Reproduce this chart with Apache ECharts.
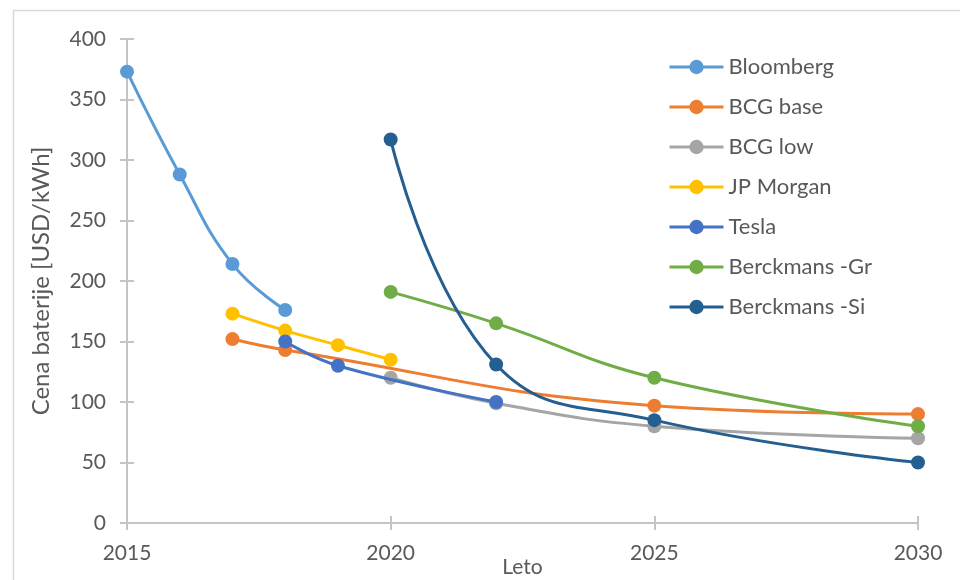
<!DOCTYPE html>
<html>
<head>
<meta charset="utf-8">
<script src="https://cdn.jsdelivr.net/npm/echarts@6/dist/echarts.min.js"></script>
<style>
  html, body { margin: 0; padding: 0; background: #ffffff; }
  #chart { width: 960px; height: 580px; }
</style>
</head>
<body>
<div id="chart"></div>
<script>
// Battery pack price forecasts (USD/kWh) by source
const bloombergYears = [2015, 2016, 2017, 2018];
const bloombergPrices = [373, 288, 214, 176];

const bcgBaseYears = [2017, 2018, 2025, 2030];
const bcgBasePrices = [152, 143, 97, 90];

const bcgLowYears = [2020, 2022, 2025, 2030];
const bcgLowPrices = [120, 99, 80, 70];

const jpMorganYears = [2017, 2018, 2019, 2020];
const jpMorganPrices = [173, 159, 147, 135];

const teslaYears = [2018, 2019, 2022];
const teslaPrices = [150, 130, 100];

const berckmansGrYears = [2020, 2022, 2025, 2030];
const berckmansGrPrices = [191, 165, 120, 80];

const berckmansSiYears = [2020, 2022, 2025, 2030];
const berckmansSiPrices = [317, 131, 85, 50];

const seriesNames = ['Bloomberg', 'BCG base', 'BCG low', 'JP Morgan', 'Tesla', 'Berckmans -Gr', 'Berckmans -Si'];
const seriesColors = ['#5B9BD5', '#ED7D31', '#A5A5A5', '#FFC000', '#4472C4', '#70AD47', '#255E91'];
const seriesYears = [bloombergYears, bcgBaseYears, bcgLowYears, jpMorganYears, teslaYears, berckmansGrYears, berckmansSiYears];
const seriesPrices = [bloombergPrices, bcgBasePrices, bcgLowPrices, jpMorganPrices, teslaPrices, berckmansGrPrices, berckmansSiPrices];

const xTicks = [2015, 2020, 2025, 2030];
const yMin = 0, yMax = 400, yStep = 50;

const FONT = 'Lato';
const TEXT = '#595959';
const AXIS = '#c4c4c4';

const chart = echarts.init(document.getElementById('chart'));

const series = seriesNames.map((name, i) => ({
  name: name,
  type: 'line',
  smooth: 0.45,
  symbol: 'circle',
  symbolSize: 14,
  data: seriesYears[i].map((y, k) => [y, seriesPrices[i][k]]),
  lineStyle: { color: seriesColors[i], width: 3 },
  itemStyle: { color: seriesColors[i], borderWidth: 0 },
  emphasis: { disabled: true },
  z: 2 + i
}));

chart.setOption({
  animation: false,
  backgroundColor: '#ffffff',
  textStyle: { fontFamily: FONT },
  graphic: [{
    type: 'rect',
    left: 11, top: 8,
    shape: { width: 1200, height: 900 },
    style: { fill: 'none', stroke: '#d9d9d9', lineWidth: 1.5 },
    silent: true
  }],
  grid: { left: 127, right: 42, top: 39, bottom: 57, outerBoundsMode: 'none', containLabel: false },
  legend: {
    orient: 'vertical',
    left: 668,
    top: 56,
    padding: 0,
    itemWidth: 54,
    itemHeight: 18,
    itemGap: 18,
    lineStyle: { width: 3 },
    textStyle: { fontFamily: FONT, fontSize: 22, color: TEXT, lineHeight: 20 },
    data: seriesNames
  },
  xAxis: [{
    type: 'value',
    min: 2015, max: 2030, interval: 5,
    name: 'Leto',
    nameLocation: 'middle',
    nameGap: 34,
    nameMoveOverlap: false,
    nameTextStyle: { fontFamily: FONT, fontSize: 21, color: TEXT },
    axisLine: { show: true, lineStyle: { color: AXIS, width: 2 } },
    axisTick: { show: true, length: 7, lineStyle: { color: AXIS, width: 2 } },
    axisLabel: { fontFamily: FONT, fontSize: 21, color: TEXT, margin: 20,
      formatter: v => (xTicks.indexOf(v) >= 0 ? String(v) : '') },
    splitLine: { show: false }
  }, {
    type: 'value',
    position: 'bottom',
    min: 2015, max: 2030, interval: 5,
    axisLine: { show: false },
    axisTick: { show: true, inside: true, length: 7, lineStyle: { color: AXIS, width: 2 } },
    axisLabel: { show: false },
    splitLine: { show: false }
  }],
  yAxis: [{
    type: 'value',
    min: yMin, max: yMax, interval: yStep,
    name: 'Cena baterije [USD/kWh]',
    nameLocation: 'middle',
    nameGap: 74,
    nameRotate: 90,
    nameMoveOverlap: false,
    nameTextStyle: { fontFamily: FONT, fontSize: 24, color: TEXT },
    axisLine: { show: true, lineStyle: { color: AXIS, width: 2 } },
    axisTick: { show: true, length: 7, lineStyle: { color: AXIS, width: 2 } },
    axisLabel: { fontFamily: FONT, fontSize: 21, color: TEXT, margin: 21 },
    splitLine: { show: false }
  }, {
    type: 'value',
    position: 'left',
    min: yMin, max: yMax, interval: yStep,
    axisLine: { show: false },
    axisTick: { show: true, inside: true, length: 7, lineStyle: { color: AXIS, width: 2 } },
    axisLabel: { show: false },
    splitLine: { show: false }
  }],
  series: series
});
</script>
</body>
</html>
